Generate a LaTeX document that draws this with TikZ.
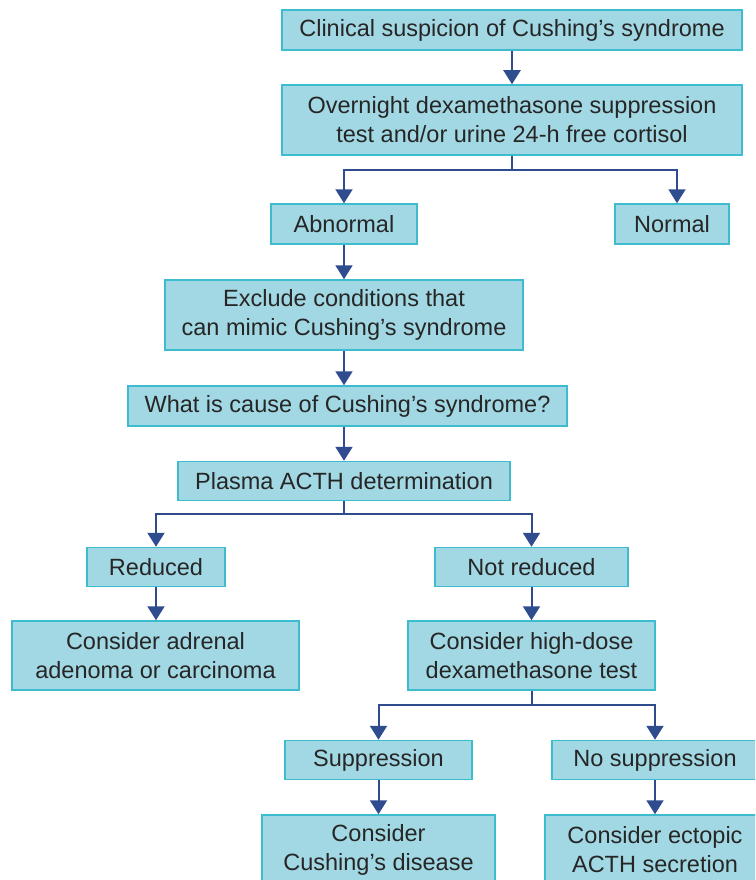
\documentclass[tikz,border=0pt]{standalone}
\usepackage{fontspec}
\setmainfont{Liberation Sans}
\usetikzlibrary{arrows.meta}
\definecolor{boxfill}{HTML}{A2D8E3}
\definecolor{boxline}{HTML}{3DBBCF}
\definecolor{arrowc}{HTML}{2F4C8F}
\definecolor{txt}{HTML}{262626}
\begin{document}
\begin{tikzpicture}[x=1pt,y=-1pt,
 box/.style={draw=boxline, fill=boxfill, line width=1.5pt, text=txt, align=center, inner sep=0pt,
   font=\fontsize{23.5}{29}\selectfont},
 arr/.style={draw=arrowc, line width=2pt, -{Triangle[width=17pt,length=14pt]}},
 ln/.style={draw=arrowc, line width=2pt}]
\useasboundingbox (0,0) rectangle (755,880);
\clip (0,0) rectangle (755,880);
\node[box, minimum width=460pt, minimum height=40pt] (a) at (512,30) {Clinical suspicion of Cushing’s syndrome};
\node[box, minimum width=460pt, minimum height=70pt] (b) at (512,120) {Overnight dexamethasone suppression\\test and/or urine 24-h free cortisol};
\node[box, minimum width=146pt, minimum height=40pt] (c) at (344,224) {Abnormal};
\node[box, minimum width=114pt, minimum height=40pt] (d) at (672,224) {Normal};
\node[box, minimum width=358pt, minimum height=70pt] (e) at (344,315) {Exclude conditions that\\can mimic Cushing’s syndrome};
\node[box, minimum width=439pt, minimum height=40pt] (f) at (347.5,406) {What is cause of Cushing’s syndrome?};
\node[box, minimum width=332pt, minimum height=39pt] (g) at (344,481) {Plasma ACTH determination};
\node[box, minimum width=138pt, minimum height=39pt] (h) at (156,567) {Reduced};
\node[box, minimum width=193pt, minimum height=39pt] (i) at (531.5,567) {Not reduced};
\node[box, minimum width=287pt, minimum height=69pt] (j) at (155.5,655.5) {Consider adrenal\\adenoma or carcinoma};
\node[box, minimum width=247pt, minimum height=69pt] (k) at (531.5,655.5) {Consider high-dose\\dexamethasone test};
\node[box, minimum width=187pt, minimum height=39pt] (l) at (378.5,760) {Suppression};
\node[box, minimum width=206pt, minimum height=39pt] (m) at (655,760) {No suppression};
\node[box, minimum width=233pt, minimum height=70pt] (n) at (378.5,850) {Consider\\Cushing’s disease};
\node[box, minimum width=220pt, minimum height=70pt] (o) at (655,850) {Consider ectopic\\ACTH secretion};
\draw[arr] (a) -- (b);
\draw[arr] (b.south) -- ++(0,14) -| (c.north);
\draw[arr] (b.south) -- ++(0,14) -| ([xshift=5pt]d.north);
\draw[arr] (c) -- (e);
\draw[arr] (e.south) -- (e.south |- f.north);
\draw[arr] (f.south -| g.north) -- (g.north);
\draw[arr] (g.south) -- ++(0,13) -| (h.north);
\draw[arr] (g.south) -- ++(0,13) -| (i.north);
\draw[arr] (h) -- (j.north -| h.south);
\draw[arr] (i) -- (k);
\draw[arr] (k.south) -- ++(0,14) -| (l.north);
\draw[arr] (k.south) -- ++(0,14) -| (m.north);
\draw[arr] (l) -- (n);
\draw[arr] (m) -- (o);
\end{tikzpicture}
\end{document}
